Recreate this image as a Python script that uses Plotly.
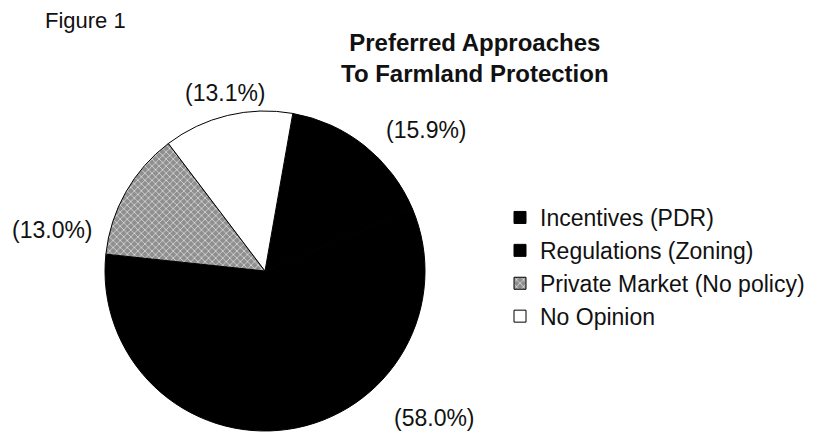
import plotly.graph_objects as go

# Survey shares for preferred farmland protection approaches (%)
approaches = ["Incentives (PDR)", "Regulations (Zoning)",
              "Private Market (No policy)", "No Opinion"]
shares = [15.9, 58.0, 13.0, 13.1]
slice_colors = ["#000000", "#000000", "#8f8f8f", "#ffffff"]

# Where each percentage label sits (paper coordinates)
label_x = [0.515, 0.525, 0.063, 0.272]
label_y = [0.70, 0.035, 0.468, 0.785]

W, H = 828, 433
cx, cy, r = 265, 271, 160

fig = go.Figure()
fig.add_trace(go.Pie(
    labels=approaches,
    values=shares,
    sort=False,
    direction="clockwise",
    rotation=10,
    textinfo="none",
    hoverinfo="label+percent",
    marker=dict(
        colors=slice_colors,
        line=dict(color="#000000", width=1),
        pattern=dict(
            shape=["", "", "x", ""],
            fgcolor="#d9d9d9",
            bgcolor=slice_colors,
            size=5,
            solidity=0.3,
        ),
    ),
    domain=dict(x=[(cx - r) / W, (cx + r) / W],
                y=[(H - cy - r) / H, (H - cy + r) / H]),
    showlegend=True,
))

font_main = "Liberation Sans, Arial, Helvetica, sans-serif"

annotations = [
    dict(x=43 / W, y=1 - 20 / H, xref="paper", yref="paper",
         xanchor="left", yanchor="middle", showarrow=False,
         text="Figure 1", font=dict(size=22, color="#111")),
    dict(x=475 / W, y=1 - 58 / H, xref="paper", yref="paper",
         xanchor="center", yanchor="middle", showarrow=False,
         text="<b>Preferred Approaches<br>To Farmland Protection</b>",
         font=dict(size=24, color="#111")),
]
for v, lx, ly in zip(shares, label_x, label_y):
    annotations.append(dict(
        x=lx, y=ly, xref="paper", yref="paper",
        xanchor="center", yanchor="middle", showarrow=False,
        text=f"({v:.1f}%)", font=dict(size=23, color="#111")))

fig.update_layout(
    width=W, height=H,
    margin=dict(l=0, r=0, t=0, b=0),
    paper_bgcolor="#ffffff",
    plot_bgcolor="#ffffff",
    font=dict(family=font_main, color="#111"),
    legend=dict(
        x=500 / W, y=1 - 196 / H, xanchor="left", yanchor="top",
        font=dict(size=23, color="#111"),
        bgcolor="rgba(0,0,0,0)",
        traceorder="normal",
    ),
    annotations=annotations,
)

fig.write_html("out.html")
